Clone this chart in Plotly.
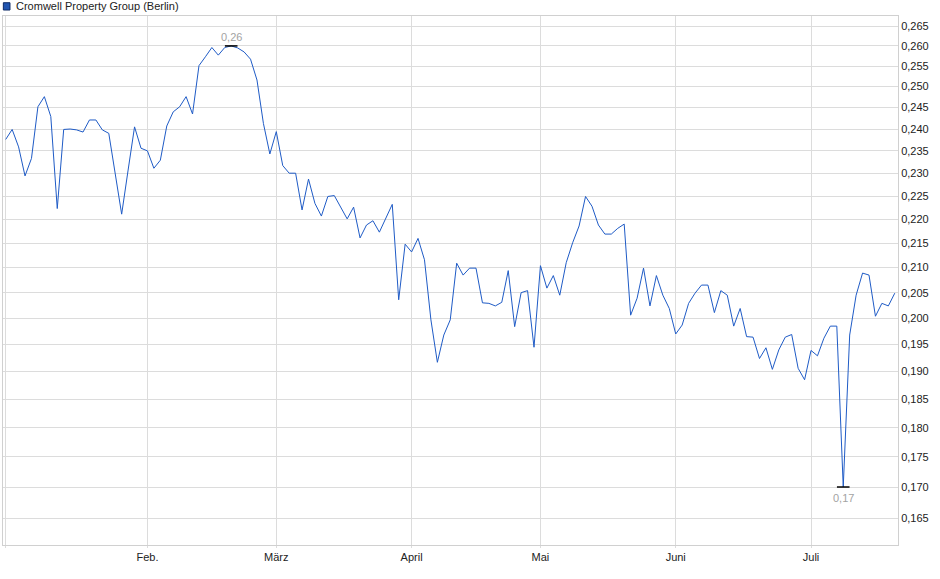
import math
import pandas as pd
import plotly.graph_objects as go

# Cromwell Property Group (Berlin), daily closes 2025 (EUR)
jan = [0.2376, 0.2399, 0.2359, 0.2294, 0.2333, 0.2452, 0.2476, 0.2429, 0.2223, 0.2399,
       0.2400, 0.2398, 0.2393, 0.2421, 0.2421, 0.2398, 0.2390, 0.2300, 0.2211, 0.2307,
       0.2405, 0.2356]
feb = [0.2350, 0.2311, 0.2329, 0.2407, 0.2440, 0.2452, 0.2476, 0.2435, 0.2551, 0.2573,
       0.2596, 0.2577, 0.2596, 0.2600, 0.2595, 0.2585, 0.2567, 0.2516, 0.2413, 0.2343]
mar = [0.2394, 0.2317, 0.2300, 0.2300, 0.2220, 0.2287, 0.2234, 0.2207, 0.2249, 0.2251,
       0.2227, 0.2201, 0.2226, 0.2161, 0.2188, 0.2197, 0.2173, 0.2202, 0.2232, 0.2036,
       0.2148]
apr = [0.2132, 0.2160, 0.2116, 0.1997, 0.1917, 0.1968, 0.1997, 0.2109, 0.2085, 0.2099,
       0.2099, 0.2030, 0.2029, 0.2024, 0.2031, 0.2094, 0.1984, 0.2050, 0.2054, 0.1945]
may = [0.2104, 0.2059, 0.2084, 0.2045, 0.2110, 0.2151, 0.2186, 0.2249, 0.2228, 0.2188,
       0.2169, 0.2169, 0.2181, 0.2190, 0.2006, 0.2039, 0.2099, 0.2024, 0.2084, 0.2045,
       0.2019]
jun = [0.1970, 0.1987, 0.2029, 0.2049, 0.2065, 0.2065, 0.2011, 0.2054, 0.2045, 0.1985,
       0.2019, 0.1965, 0.1964, 0.1924, 0.1944, 0.1904, 0.1940, 0.1964, 0.1969, 0.1906,
       0.1885]
jul = [0.1939, 0.1929, 0.1962, 0.1985, 0.1985, 0.1700, 0.1968, 0.2045, 0.2089, 0.2085,
       0.2004, 0.2029, 0.2024, 0.2049]

prices = jan + feb + mar + apr + may + jun + jul

# Börse Berlin trading days
holidays = ["2025-04-18", "2025-04-21", "2025-05-01"]
days = pd.bdate_range("2025-01-02", "2025-07-18", freq="C", holidays=holidays)
dates = [d.strftime("%Y-%m-%d") for d in days]

month_labels = ["", "Feb.", "März", "April", "Mai", "Juni", "Juli"]
y_ticks = [0.165, 0.170, 0.175, 0.180, 0.185, 0.190, 0.195, 0.200, 0.205, 0.210,
           0.215, 0.220, 0.225, 0.230, 0.235, 0.240, 0.245, 0.250, 0.255, 0.260, 0.265]

df = pd.DataFrame({"date": dates, "price": prices})
first_days = df.groupby(df["date"].str[:7])["date"].first().tolist()

hi = df.loc[df["price"].idxmax()]
lo = df.loc[df["price"].idxmin()]

font = "Arial, Liberation Sans, sans-serif"

fig = go.Figure()
fig.add_trace(go.Scatter(x=df["date"], y=df["price"], mode="lines",
                         line=dict(color="#1f5bc6", width=1), hoverinfo="x+y"))
# high / low markers
fig.add_trace(go.Scatter(x=[hi["date"], lo["date"]], y=[hi["price"], lo["price"]], mode="markers",
                         marker=dict(symbol="line-ew", size=9, line=dict(color="black", width=1.5)),
                         hoverinfo="skip"))
fig.add_annotation(x=hi["date"], y=math.log10(hi["price"]), yshift=9,
                   text=f"{hi['price']:.2f}".replace(".", ","), showarrow=False,
                   font=dict(color="#a3a3a3", size=11, family=font))
fig.add_annotation(x=lo["date"], y=math.log10(lo["price"]), yshift=-11,
                   text=f"{lo['price']:.2f}".replace(".", ","), showarrow=False,
                   font=dict(color="#a3a3a3", size=11, family=font))

fig.update_layout(
    width=940, height=579,
    margin=dict(l=3, r=42, t=16, b=34),
    paper_bgcolor="white", plot_bgcolor="white",
    showlegend=False,
    separators=",.",
    font=dict(family=font, size=11, color="#222222"),
    xaxis=dict(type="category", range=[-0.42, len(dates) - 0.5],
               tickvals=first_days, ticktext=month_labels,
               showgrid=True, gridcolor="#dcdcdc", gridwidth=1,
               ticks="outside", ticklen=2, tickcolor="#dcdcdc",
               showline=True, linecolor="#d0d0d0", mirror=True,
               tickfont=dict(size=11, color="#222222"), zeroline=False),
    yaxis=dict(type="log", side="right",
               range=[-0.79381, -0.57251],
               tickvals=y_ticks, tickformat=".3f",
               showgrid=True, gridcolor="#dcdcdc", gridwidth=1,
               ticks="", showline=True, linecolor="#d0d0d0", mirror=True,
               tickfont=dict(size=11, color="#222222"), zeroline=False),
)

# legend entry in the top-left corner
fig.add_shape(type="rect", xref="paper", yref="paper",
              x0=0.0004, x1=0.0078, y0=1.0113, y1=1.0251,
              fillcolor="#2155b0", line=dict(color="#0d2a66", width=1))
fig.add_annotation(text="Cromwell Property Group (Berlin)", xref="paper", yref="paper",
                   x=0.0125, y=1.018, xanchor="left", yanchor="middle", showarrow=False,
                   font=dict(size=11, color="#222222", family=font))

fig.write_html("out.html", config={"displayModeBar": False},
               post_script="document.body.style.margin='0';")
